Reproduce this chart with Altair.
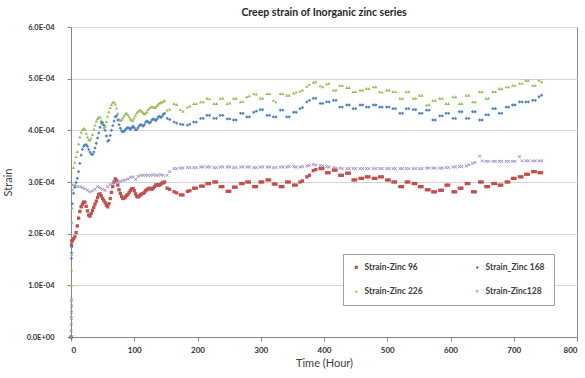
import altair as alt
import pandas as pd

# ---- series names, colours and marker shapes (legend order) ----
SERIES = ["Strain-Zinc 96", "Strain_Zinc 168", "Strain-Zinc 226", "Strain-Zinc128"]
COLORS = ["#C0504D", "#4F81BD", "#9BBB59", "#9C88C4"]
X_MARK = ("M-1,-0.7L-0.7,-1L0,-0.3L0.7,-1L1,-0.7L0.3,0L1,0.7L0.7,1"
          "L0,0.3L-0.7,1L-1,0.7L-0.3,0Z")
SHAPES = ["square", "diamond", "triangle-up", X_MARK]

X_TICKS = [0, 100, 200, 300, 400, 500, 600, 700, 800]
Y_TICKS = [0.0, 1e-4, 2e-4, 3e-4, 4e-4, 5e-4, 6e-4]

# ---- readings at loading (hours / microstrain) ----
Z96_T0 = [0, 0.8, 1.2]
Z96_S0 = [0, 178, 186]
Z168_T0 = [0, 0.6, 0.9, 1.2]
Z168_S0 = [0, 152, 163, 174]
Z226_T0 = [0, 0.2, 0.4, 0.6, 0.8, 1.0, 1.2, 1.4, 1.6]
Z226_S0 = [0, 40, 70, 100, 130, 160, 190, 222, 250]
Z128_T0 = [0, 0.2, 0.4, 0.6, 0.8, 1.0, 1.2]
Z128_S0 = [0, 12, 24, 36, 48, 60, 72]

# ---- first 150 hours, logged every 2 hours ----
EARLY_H = [2, 4, 6, 8, 10, 12, 14, 16, 18, 20, 22, 24, 26, 28, 30, 32, 34, 36,
           38, 40, 42, 44, 46, 48, 50, 52, 54, 56, 58, 60, 62, 64, 66, 68, 70,
           72, 74, 76, 78, 80, 82, 84, 86, 88, 90, 92, 94, 96, 98, 100, 102,
           104, 106, 108, 110, 112, 114, 116, 118, 120, 122, 124, 126, 128,
           130, 132, 134, 136, 138, 140, 142, 144, 146, 148]
Z96_EARLY = [186, 190, 194, 202, 215, 230, 243, 252, 257, 261, 261, 253, 244,
             236, 234, 239, 245, 251, 257, 263, 270, 276, 277, 273, 268, 264,
             260, 255, 252, 258, 268, 280, 291, 300, 306, 303, 294, 285, 278,
             272, 268, 269, 271, 274, 276, 280, 284, 287, 287, 283, 277, 272,
             271, 273, 275, 277, 278, 280, 283, 285, 287, 288, 287, 286, 288,
             291, 294, 295, 294, 294, 296, 298, 299, 300]
Z168_EARLY = [258, 278, 290, 299, 307, 320, 336, 352, 363, 369, 372, 372, 369,
              363, 358, 354, 353, 358, 366, 375, 385, 395, 406, 414, 415, 410,
              400, 389, 379, 381, 390, 400, 409, 418, 426, 428, 420, 411, 404,
              399, 397, 398, 401, 404, 405, 404, 402, 405, 408, 405, 401, 401,
              405, 409, 411, 410, 408, 411, 416, 418, 416, 414, 416, 420, 422,
              421, 419, 422, 426, 427, 425, 427, 431, 433]
Z226_EARLY = [295, 328, 338, 349, 359, 374, 387, 396, 401, 404, 402, 394, 387,
              382, 381, 385, 392, 402, 410, 418, 423, 426, 425, 419, 412, 405,
              408, 417, 427, 436, 444, 450, 454, 455, 451, 443, 433, 422, 419,
              421, 424, 428, 432, 433, 430, 426, 422, 420, 420, 424, 429, 434,
              437, 439, 439, 437, 434, 432, 433, 436, 440, 443, 445, 446, 445,
              444, 445, 448, 451, 453, 454, 455, 456, 458]

# Zinc128 was logged every 4 hours over the same period
Z128_EARLY_H = [2, 6, 10, 14, 18, 22, 26, 30, 34, 38, 42, 46, 50, 54, 58, 62,
                66, 70, 74, 78, 82, 86, 90, 94, 98, 102, 106, 110, 114, 118,
                122, 126, 130, 134, 138, 142, 146]
Z128_EARLY = [285, 294, 291, 291, 289, 287, 284, 281, 283, 286, 291, 289, 286,
              284, 291, 295, 297, 299, 300, 301, 303, 304, 306, 309, 310, 305,
              311, 313, 313, 313, 313, 313, 314, 313, 313, 314, 313]

# ---- long-term readings, taken in pairs ----
LATE_H = [152, 156, 163, 167, 173, 177, 184, 188, 194, 198, 205, 209, 215, 219,
          226, 230, 236, 240, 247, 251, 257, 261, 268, 272, 278, 282, 289, 293,
          299, 303, 310, 314, 320, 324, 331, 335, 341, 345, 352, 356, 362, 366,
          373, 377, 383, 387, 394, 398, 404, 408, 415, 419, 425, 429, 436, 440,
          446, 450, 457, 461, 467, 471, 478, 482, 488, 492, 499, 503, 509, 513,
          520, 524, 530, 534, 541, 545, 551, 555, 562, 566, 572, 576, 583, 587,
          593, 597, 604, 608, 614, 618, 625, 629, 635, 639, 646, 650, 656, 660,
          667, 671, 677, 681, 688, 692, 698, 702, 709, 713, 719, 723, 730, 734,
          740, 744]
Z96_LATE = [288, 286, 281, 279, 275, 275, 282, 283, 288, 288, 292, 292, 297, 297,
            300, 300, 291, 291, 282, 282, 290, 290, 297, 297, 300, 300, 291, 291,
            300, 300, 304, 304, 296, 296, 291, 291, 300, 300, 294, 294, 300, 302,
            310, 313, 322, 324, 326, 326, 318, 318, 323, 323, 313, 313, 317, 317,
            304, 304, 307, 307, 310, 310, 307, 307, 310, 310, 304, 304, 300, 300,
            291, 291, 300, 300, 297, 297, 291, 291, 285, 285, 281, 281, 284, 284,
            294, 294, 281, 281, 288, 288, 297, 297, 281, 281, 300, 300, 291, 291,
            297, 297, 294, 294, 300, 300, 307, 307, 310, 310, 315, 315, 320, 320,
            318, 318]
Z168_LATE = [423, 421, 416, 414, 412, 411, 410, 412, 416, 416, 423, 423, 429, 429,
             423, 423, 429, 429, 422, 422, 420, 420, 433, 433, 426, 426, 435, 437,
             440, 440, 429, 429, 426, 426, 439, 439, 426, 426, 435, 435, 442, 444,
             455, 458, 462, 462, 452, 452, 455, 455, 458, 458, 445, 445, 449, 449,
             442, 442, 449, 449, 445, 445, 449, 449, 445, 445, 445, 445, 442, 442,
             433, 433, 442, 442, 440, 440, 433, 433, 439, 439, 420, 420, 428, 428,
             433, 433, 423, 423, 436, 436, 423, 423, 436, 436, 420, 420, 430, 430,
             442, 442, 433, 433, 445, 445, 449, 449, 455, 455, 455, 455, 458, 458,
             465, 468]
Z226_LATE = [439, 441, 452, 450, 440, 437, 445, 447, 452, 452, 455, 455, 462, 461,
             452, 452, 462, 462, 452, 453, 462, 462, 455, 456, 465, 467, 471, 470,
             462, 462, 471, 471, 458, 455, 471, 471, 468, 468, 472, 474, 476, 478,
             485, 489, 493, 494, 486, 484, 490, 491, 478, 478, 487, 487, 483, 483,
             475, 475, 478, 478, 481, 481, 484, 484, 475, 474, 478, 478, 475, 475,
             462, 462, 475, 475, 462, 462, 468, 468, 449, 450, 458, 458, 462, 462,
             452, 452, 465, 465, 452, 452, 468, 468, 455, 455, 475, 475, 462, 462,
             475, 475, 481, 481, 484, 484, 487, 487, 491, 491, 497, 497, 487, 487,
             497, 494]
Z128_LATE = [313, 320, 326, 326, 327, 327, 328, 328, 328, 328, 329, 329, 329, 329,
             328, 328, 329, 329, 329, 329, 328, 328, 329, 329, 329, 329, 328, 328,
             329, 329, 329, 329, 328, 328, 329, 329, 329, 330, 330, 329, 329, 330,
             331, 332, 334, 333, 332, 331, 330, 329, 328, 327, 327, 326, 326, 326,
             326, 326, 326, 326, 326, 326, 326, 326, 326, 326, 326, 326, 326, 326,
             326, 326, 326, 326, 326, 326, 326, 326, 327, 327, 327, 327, 327, 327,
             328, 328, 329, 329, 330, 330, 331, 333, 336, 338, 350, 341, 340, 340,
             340, 340, 340, 340, 340, 340, 340, 340, 349, 341, 341, 341, 341, 341,
             341, 341]


def series_frame(name, hours, micro):
    frame = pd.DataFrame({"hour": hours, "micro": micro})
    frame["strain"] = frame["micro"] * 1e-6
    frame["series"] = name
    return frame


# drawing order: Zinc 226 underneath, Zinc128 on top
data = pd.concat([
    series_frame(SERIES[2], Z226_T0 + EARLY_H + LATE_H, Z226_S0 + Z226_EARLY + Z226_LATE),
    series_frame(SERIES[0], Z96_T0 + EARLY_H + LATE_H, Z96_S0 + Z96_EARLY + Z96_LATE),
    series_frame(SERIES[1], Z168_T0 + EARLY_H + LATE_H, Z168_S0 + Z168_EARLY + Z168_LATE),
    series_frame(SERIES[3], Z128_T0 + Z128_EARLY_H + LATE_H, Z128_S0 + Z128_EARLY + Z128_LATE),
], ignore_index=True)

FONT = "Lato"

legend = alt.Legend(
    title=None, orient="none", legendX=272, legendY=227, direction="horizontal",
    columns=2, symbolSize=10, symbolStrokeWidth=0,
    labelFont=FONT, labelFontSize=8.5, labelFontWeight="bold", labelColor="#404040",
    labelLimit=200, strokeColor="#A0A0A0", fillColor="white", padding=9,
    rowPadding=15, columnPadding=50,
)

chart = alt.Chart(data).mark_point(filled=True, size=11, opacity=1, strokeWidth=0).encode(
    x=alt.X("hour:Q", title="Time (Hour)",
            scale=alt.Scale(domain=[0, 800], nice=False),
            axis=alt.Axis(values=X_TICKS, grid=False, format="d", labelFontSize=8)),
    y=alt.Y("strain:Q", title="Strain",
            scale=alt.Scale(domain=[0, 6e-4], nice=False),
            axis=alt.Axis(values=Y_TICKS, grid=True,
                          labelExpr="datum.value == 0 ? '0.0E+00' : format(datum.value * 10000, '.1f') + 'E-04'")),
    color=alt.Color("series:N", scale=alt.Scale(domain=SERIES, range=COLORS), legend=legend),
    shape=alt.Shape("series:N", scale=alt.Scale(domain=SERIES, range=SHAPES), legend=legend),
).properties(
    width=506, height=310,
    title=alt.TitleParams("Creep strain of Inorganic zinc  series", font=FONT,
                          fontSize=10.5, fontWeight="bold", color="#262626", offset=5),
    autosize=alt.AutoSizeParams(type="none"),
    padding={"left": 71, "top": 27, "right": 8, "bottom": 41},
).configure(background="white").configure_view(
    stroke="#8C8C8C", strokeWidth=1,
).configure_axis(
    labelFont=FONT, labelFontSize=7.5, labelFontWeight="bold", labelColor="#333333",
    titleFont=FONT, titleFontSize=11, titleFontWeight="normal", titleColor="#404040",
    domainColor="#868686", tickColor="#868686", tickSize=4,
    gridColor="#D4D4D4", gridWidth=1,
).configure_axisX(labelPadding=5, titlePadding=3).configure_axisY(
    labelPadding=13, titlePadding=13,
)

chart.save("out.html", embed_options={"renderer": "svg", "actions": False})
